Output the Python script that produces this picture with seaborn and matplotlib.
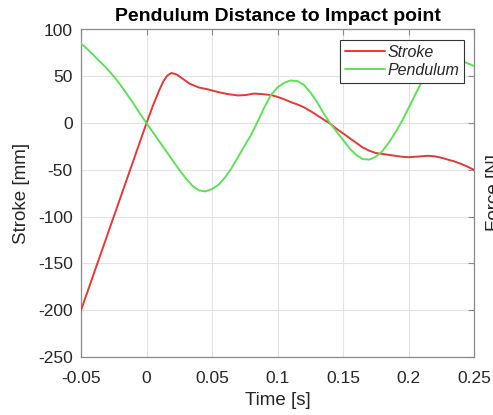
import numpy as np
import pandas as pd
import matplotlib
matplotlib.use("Agg")
import matplotlib.pyplot as plt
import seaborn as sns

# ---- data ----
stroke_t = [-0.05, -0.025, 0.0, 0.005, 0.010, 0.013, 0.016, 0.019, 0.023, 0.028, 0.033,
            0.040, 0.047, 0.055, 0.062, 0.070, 0.076, 0.082, 0.088, 0.095, 0.100,
            0.105, 0.110, 0.115, 0.120, 0.125, 0.130, 0.135, 0.140, 0.145, 0.150,
            0.155, 0.160, 0.165, 0.170, 0.175, 0.180, 0.185, 0.190, 0.195, 0.200,
            0.205, 0.210, 0.215, 0.220, 0.225, 0.230, 0.235, 0.240, 0.245, 0.250]
stroke_v = [-200, -100, 0, 19, 36, 45, 51, 53.5, 52, 47, 42,
            38, 36, 33, 31, 29.5, 30, 31.5, 31, 30, 28,
            25.5, 22.5, 20, 17, 13, 8.5, 4, -0.5, -6, -11,
            -16, -21, -26, -29.5, -32, -33, -34, -35, -36, -36.5,
            -36, -35.5, -35, -35.5, -37, -39, -41, -43.5, -46.5, -50]

pend_t = [-0.050, -0.045, -0.040, -0.035, -0.030, -0.025, -0.020, -0.015, -0.010, -0.005,
          0.000, 0.005, 0.010, 0.015, 0.020, 0.025, 0.030, 0.035, 0.040, 0.045,
          0.050, 0.055, 0.060, 0.065, 0.070, 0.075, 0.080, 0.085, 0.090, 0.095,
          0.100, 0.105, 0.110, 0.115, 0.120, 0.125, 0.130, 0.135, 0.140, 0.145,
          0.150, 0.155, 0.160, 0.165, 0.170, 0.175, 0.180, 0.185, 0.190, 0.195,
          0.200, 0.205, 0.210, 0.215, 0.220, 0.225, 0.230, 0.235, 0.240, 0.245, 0.250]
pend_v = [85, 79, 72, 65, 58, 50, 41, 31, 21, 10,
          0, -10, -20, -30, -40, -50, -59, -67, -72, -73,
          -70.5, -66, -58, -48, -36, -24, -12, 2, 17, 30,
          38, 43, 45.5, 45, 41, 33, 23, 11, 0, -9,
          -18, -27, -34, -38.5, -39, -36, -30, -21, -10, 2,
          16, 30, 44, 52, 59, 64, 67, 68, 67, 64, 61]

series_names = ["Stroke", "Pendulum"]
series_colors = ["#e23a3a", "#5fe05a"]
x_ticks = [-0.05, 0, 0.05, 0.1, 0.15, 0.2, 0.25]
x_ticklabels = ["-0.05", "0", "0.05", "0.1", "0.15", "0.2", "0.25"]
y_ticks = [-250, -200, -150, -100, -50, 0, 50, 100]
y_ticklabels = ["-250", "-200", "-150", "-100", "-50", "0", "50", "100"]

title = "Pendulum Distance to Impact point"
xlabel = "Time [s]"
ylabel = "Stroke [mm]"
right_label = "Force [N]"

df = pd.concat([
    pd.DataFrame({"t": stroke_t, "v": stroke_v, "series": series_names[0]}),
    pd.DataFrame({"t": pend_t, "v": pend_v, "series": series_names[1]}),
], ignore_index=True)

sns.set_theme(style="white")
plt.rcParams["font.family"] = ["Liberation Sans", "DejaVu Sans"]
plt.rcParams["axes.unicode_minus"] = False

fig = plt.figure(figsize=(4.93, 4.15), dpi=100)
ax = fig.add_axes([81 / 493, 1 - 357 / 415, (474 - 81) / 493, (357 - 29.5) / 415])

sns.lineplot(data=df, x="t", y="v", hue="series", sort=False,
             palette=dict(zip(series_names, series_colors)), linewidth=1.4,
             ax=ax, legend=False, zorder=3)

ax.set_xlim(-0.05, 0.25)
ax.set_ylim(-250, 100)
ax.set_xticks(x_ticks)
ax.set_xticklabels(x_ticklabels)
ax.set_yticks(y_ticks)
ax.set_yticklabels(y_ticklabels)

ax.grid(True, color="#e3e3e3", linewidth=0.8, zorder=0)
ax.set_axisbelow(True)
for s in ax.spines.values():
    s.set_color("#8a8a8a")
    s.set_linewidth(0.9)
ax.tick_params(direction="in", length=4, width=0.8, color="#8a8a8a",
               top=True, right=True, labelsize=12.5, labelcolor="#262626")
ax.tick_params(axis="x", pad=10)
ax.tick_params(axis="y", pad=6)

ax.set_title(title, fontsize=14, fontweight="bold", color="black", pad=6)
ax.set_xlabel(xlabel, fontsize=13.5, color="#262626")
ax.set_ylabel(ylabel, fontsize=13.5, color="#262626")
ax.xaxis.label.set_va("center")
ax.yaxis.label.set_va("center")
ax.xaxis.set_label_coords(0.5, (357 - 400) / 327.5, transform=ax.transAxes)
ax.yaxis.set_label_coords((21.5 - 81) / 393, 0.5, transform=ax.transAxes)

handles = [plt.Line2D([], [], color=c, lw=1.4) for c in series_colors]
leg = ax.legend(handles, series_names, loc="upper right",
                bbox_to_anchor=((464 - 81) / 393, (357 - 40) / 327.5),
                borderaxespad=0, fancybox=False, framealpha=1,
                edgecolor="#333333", prop={"style": "italic", "size": 11.5},
                handlelength=2.5, handletextpad=0.15, labelspacing=0.2,
                borderpad=0.3)
leg.get_frame().set_linewidth(0.8)
leg.set_zorder(5)

fig.text(486 / 493, 1 - 192 / 415, right_label, rotation=90, ha="left",
         va="center", fontsize=13.5, color="#262626")

fig.savefig("out.png", dpi=100)
